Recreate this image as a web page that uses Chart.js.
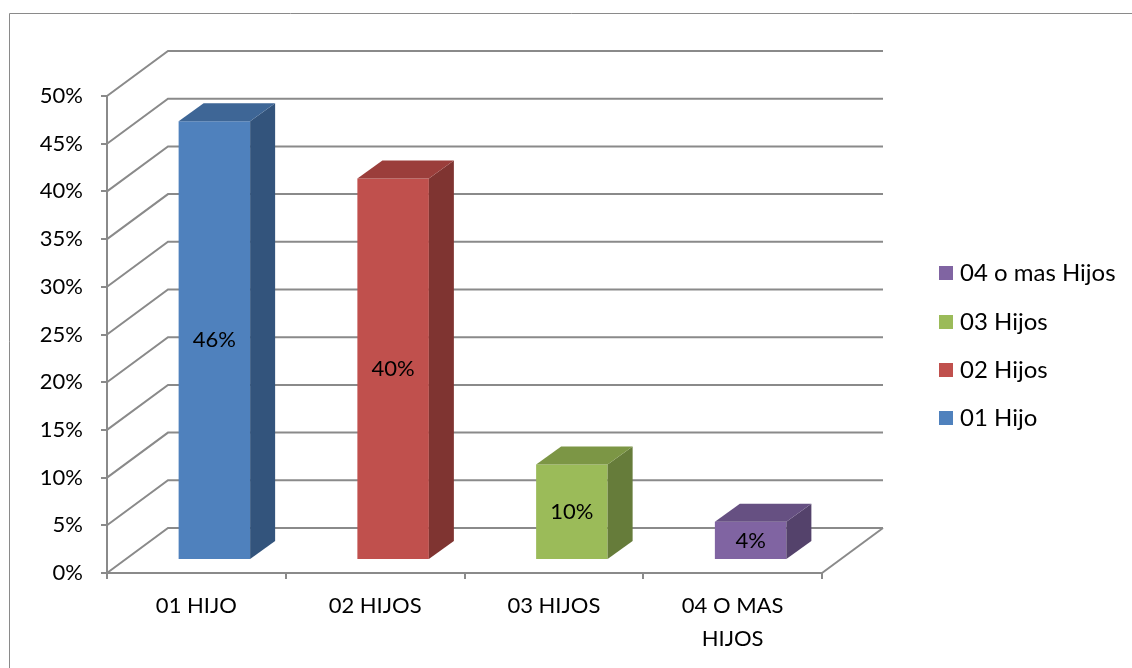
<!DOCTYPE html>
<html lang="es">
<head>
  <meta charset="UTF-8">
  <title>Número de hijos</title>
  <style>
    html, body { margin: 0; padding: 0; background: #fff; }
    #wrap { width: 1132px; height: 668px; position: relative; }
  </style>
</head>
<body>
  <div id="wrap"><canvas id="hijosChart"></canvas></div>

  <script src="https://cdn.jsdelivr.net/npm/chart.js"></script>
  <script>
    // categorías del eje x y nombres de la leyenda
    const categories = ['01 HIJO', '02 HIJOS', '03 HIJOS', ['04 O MAS', 'HIJOS']];
    const seriesNames = ['01 Hijo', '02 Hijos', '03 Hijos', '04 o mas Hijos'];
    const values = [46, 40, 10, 4];
    const yMax = 50;
    const yStep = 5;

    const frontColors = ['#4f81bd', '#c0504d', '#9bbb59', '#8064a2'];
    const topColors = ['#3e6696', '#9b3e3b', '#7c9645', '#665082'];
    const sideColors = ['#33547c', '#7f3431', '#667c3a', '#54426b'];

    const lineGray = '#8a8a8a';
    const font = 'Lato, "Liberation Sans", sans-serif';

    // profundidad de la pared del fondo y de las barras
    const WALL = { dx: 61, dy: -45 };
    const BAR_SHIFT = { dx: 18, dy: -13 };
    const BAR_DEPTH = { dx: 25, dy: -18 };

    const wallPlugin = {
      id: 'wall3d',
      beforeDraw(chart) {
        const ctx = chart.ctx;
        ctx.save();
        ctx.strokeStyle = '#8a8a8a';
        ctx.lineWidth = 1;
        ctx.beginPath();
        ctx.moveTo(9.5, 700);
        ctx.lineTo(9.5, 13.5);
        ctx.lineTo(1140, 13.5);
        ctx.stroke();
        ctx.restore();
      },
      beforeDatasetsDraw(chart) {
        const { ctx, chartArea: a, scales: { y } } = chart;
        ctx.save();
        ctx.strokeStyle = lineGray;
        ctx.lineWidth = 2;
        y.ticks.forEach(t => {
          const py = y.getPixelForValue(t.value);
          ctx.beginPath();
          ctx.moveTo(a.left, py);
          ctx.lineTo(a.left + WALL.dx, py + WALL.dy);
          ctx.lineTo(a.right + WALL.dx, py + WALL.dy);
          ctx.stroke();
        });
        // borde derecho del piso
        ctx.beginPath();
        ctx.moveTo(a.right, a.bottom);
        ctx.lineTo(a.right + WALL.dx, a.bottom + WALL.dy);
        ctx.stroke();
        ctx.restore();

        // las barras se dibujan desplazadas hacia el fondo
        ctx.save();
        ctx.translate(BAR_SHIFT.dx, BAR_SHIFT.dy);
      },
      afterDatasetsDraw(chart) {
        const ctx = chart.ctx;
        const meta = chart.getDatasetMeta(0);
        meta.data.forEach((bar, i) => {
          const { x, y, base, width } = bar.getProps(['x', 'y', 'base', 'width'], true);
          const l = x - width / 2, r = x + width / 2;
          // cara lateral
          ctx.fillStyle = sideColors[i];
          ctx.beginPath();
          ctx.moveTo(r, y);
          ctx.lineTo(r + BAR_DEPTH.dx, y + BAR_DEPTH.dy);
          ctx.lineTo(r + BAR_DEPTH.dx, base + BAR_DEPTH.dy);
          ctx.lineTo(r, base);
          ctx.closePath();
          ctx.fill();
          // cara superior
          ctx.fillStyle = topColors[i];
          ctx.beginPath();
          ctx.moveTo(l, y);
          ctx.lineTo(l + BAR_DEPTH.dx, y + BAR_DEPTH.dy);
          ctx.lineTo(r + BAR_DEPTH.dx, y + BAR_DEPTH.dy);
          ctx.lineTo(r, y);
          ctx.closePath();
          ctx.fill();
          // etiqueta de valor
          ctx.fillStyle = '#000';
          ctx.font = '22px ' + font;
          ctx.textAlign = 'center';
          ctx.textBaseline = 'middle';
          ctx.fillText(values[i] + '%', x, (y + base) / 2);
        });
        ctx.restore();

        // leyenda (orden inverso)
        ctx.save();
        ctx.font = '24px ' + font;
        ctx.textBaseline = 'middle';
        ctx.textAlign = 'left';
        const rows = [273, 322, 370, 418];
        for (let k = 0; k < seriesNames.length; k++) {
          const i = seriesNames.length - 1 - k;
          ctx.fillStyle = frontColors[i];
          ctx.fillRect(939, rows[k] - 7, 14, 14);
          ctx.fillStyle = '#000';
          ctx.fillText(seriesNames[i], 960, rows[k]);
        }
        ctx.restore();
      }
    };

    Chart.defaults.color = '#000';
    Chart.defaults.font.family = font;
    Chart.defaults.font.size = 22;

    new Chart(document.getElementById('hijosChart'), {
      type: 'bar',
      data: {
        labels: categories,
        datasets: [{
          label: 'Hijos',
          data: values,
          backgroundColor: frontColors,
          categoryPercentage: 1,
          barPercentage: 0.4,
          clip: false
        }]
      },
      options: {
        responsive: true,
        maintainAspectRatio: false,
        animation: false,
        layout: { padding: { top: 96, right: 310, left: 0, bottom: 0 } },
        plugins: { legend: { display: false }, tooltip: { enabled: false } },
        scales: {
          x: {
            afterFit(s) { s.height = 95; },
            offset: true,
            border: { color: lineGray, width: 2 },
            grid: { offset: true, drawOnChartArea: false, tickLength: 6, color: lineGray, lineWidth: 2 },
            ticks: { padding: 10, font: { size: 22, lineHeight: 1.5 }, maxRotation: 0 }
          },
          y: {
            afterFit(s) { s.width = 107; },
            min: 0,
            max: yMax,
            border: { color: lineGray, width: 2 },
            grid: { drawOnChartArea: false, tickLength: 6, color: lineGray, lineWidth: 2 },
            ticks: { stepSize: yStep, padding: 18, callback: v => v + '%' }
          }
        }
      },
      plugins: [wallPlugin]
    });
  </script>
</body>
</html>
